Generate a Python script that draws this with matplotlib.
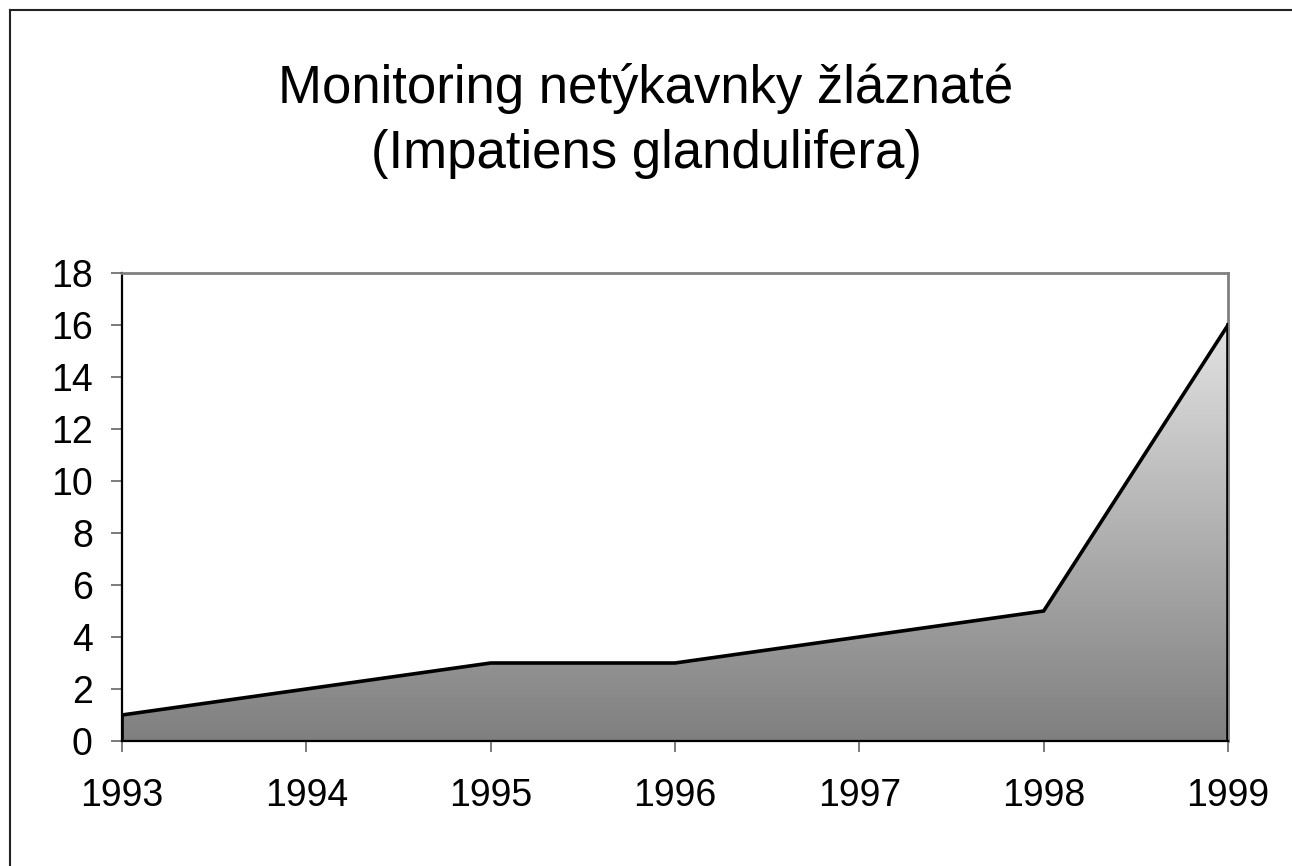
import matplotlib
matplotlib.use("Agg")
import matplotlib.pyplot as plt
import numpy as np
from matplotlib.patches import PathPatch
from matplotlib.lines import Line2D
from matplotlib.colors import LinearSegmentedColormap

years = [1993, 1994, 1995, 1996, 1997, 1998, 1999]
values = [1, 2, 3, 3, 4, 5, 16]
yticks = [0, 2, 4, 6, 8, 10, 12, 14, 16, 18]
title = "Monitoring netýkavnky žláznaté\n(Impatiens glandulifera)"

plt.rcParams['font.family'] = ['Liberation Sans', 'DejaVu Sans']

W, H = 1292, 866
fig = plt.figure(figsize=(W/100, H/100), dpi=100)
ax = fig.add_axes([122/W, 1-741/H, (1228-122)/W, (741-273)/H])

x = np.arange(len(years))
poly = ax.fill_between(x, 0, values, facecolor='none', edgecolor='none')
grad = np.linspace(0, 1, 256).reshape(-1, 1)
cmap = LinearSegmentedColormap.from_list('g', ['#7f7f7f', '#e2e2e2'])
im = ax.imshow(grad, extent=[x[0], x[-1], 0, max(values)], origin='lower',
               aspect='auto', cmap=cmap, zorder=1)
path = poly.get_paths()[0]
clip = PathPatch(path, transform=ax.transData, facecolor='none', edgecolor='none')
ax.add_patch(clip)
im.set_clip_path(clip)

ax.plot(x, values, color='black', lw=2.6, zorder=3, solid_joinstyle='miter')
ax.plot([x[0], x[0]], [0, values[0]], color='black', lw=2.6, zorder=3)
ax.plot([x[-1], x[-1]], [0, values[-1]], color='black', lw=2.6, zorder=3)

ax.set_xlim(x[0], x[-1])
ax.set_ylim(0, 18)
ax.set_xticks(x)
ax.set_xticklabels([str(y) for y in years])
ax.set_yticks(yticks)
ax.tick_params(axis='both', direction='out', length=8, width=1.2, color='#666666',
               labelsize=27, labelcolor='black')
ax.tick_params(axis='x', pad=19)
ax.tick_params(axis='y', pad=13)
for s in ['top', 'right']:
    ax.spines[s].set_color('#808080')
    ax.spines[s].set_linewidth(2)
for s in ['left', 'bottom']:
    ax.spines[s].set_color('black')
    ax.spines[s].set_linewidth(1.6)
ax.spines['bottom'].set_zorder(4)

fig.text(0.5, 1-121/H, title, ha='center', va='center', fontsize=38,
         linespacing=1.38)

# outer frame (top and left edges visible; extends past the image on right/bottom)
fig.lines.append(Line2D([10/W, 1.0], [1-10/H, 1-10/H], transform=fig.transFigure,
                        color='#222222', lw=1.5))
fig.lines.append(Line2D([10/W, 10/W], [0.0, 1-10/H], transform=fig.transFigure,
                        color='#222222', lw=1.5))

fig.savefig('out.png', dpi=100)
